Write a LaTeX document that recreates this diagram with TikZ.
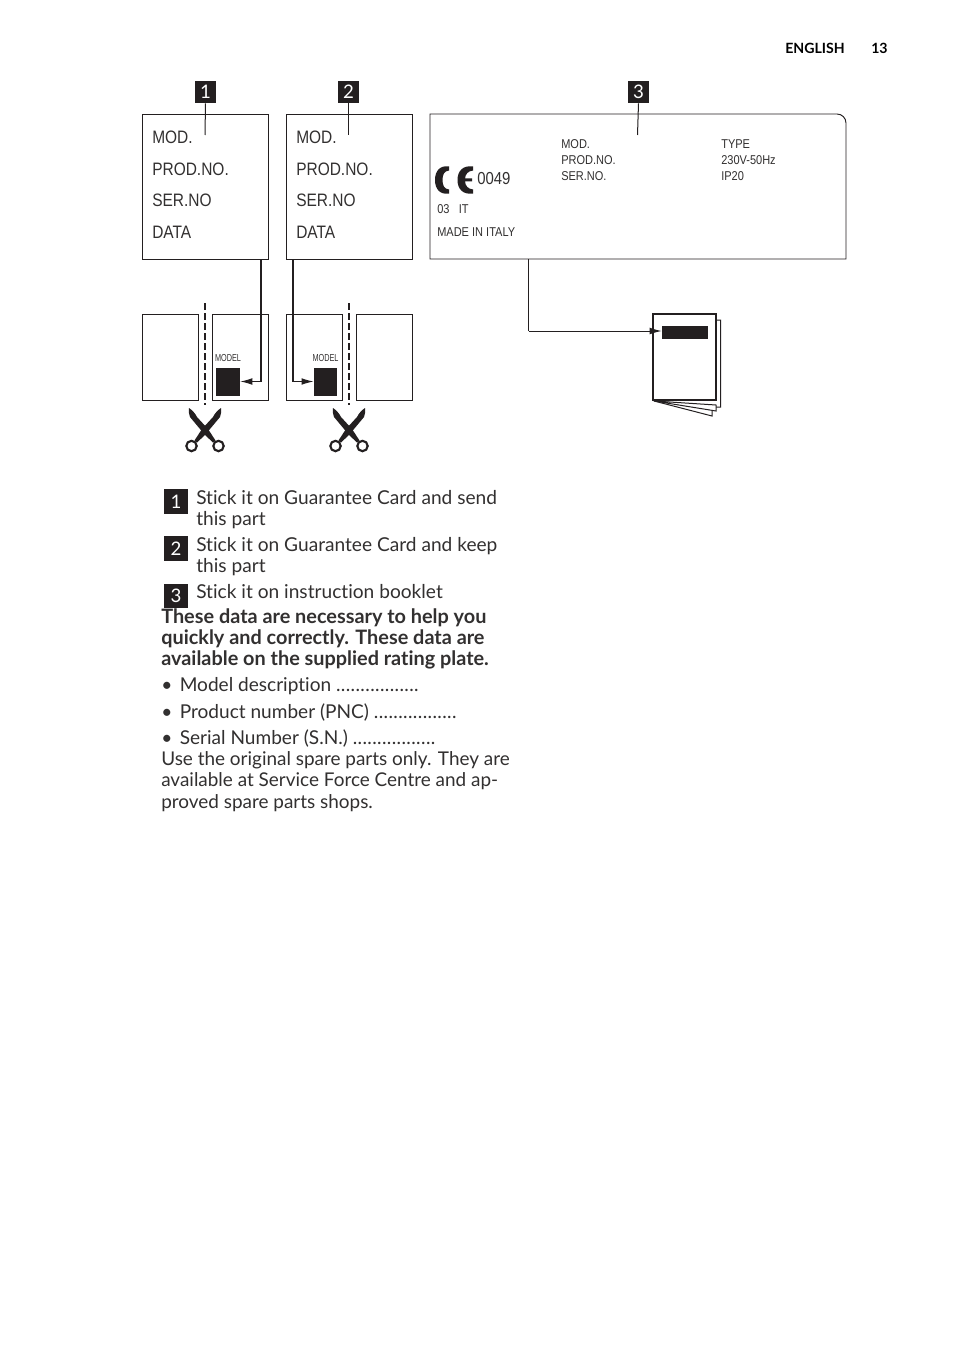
\documentclass[tikz,border=0pt]{standalone}
\usepackage{fontspec}
\setmainfont{Lato}[Ligatures=NoCommon]
\newfontfamily\tagfont[FakeStretch=0.86]{Liberation Sans}
\newfontfamily\modelfont[FakeStretch=0.72]{Liberation Sans}
\definecolor{inkblack}{RGB}{35,31,32}
\definecolor{bodygrey}{RGB}{50,48,48}
\usetikzlibrary{
  arrows.meta,
  calc
}
\newcommand{\fillrun}{{\addfontfeature{LetterSpace=2}.................}}
\tikzset{
  panebox/.style={draw=inkblack, line width=0.72pt},
  tagline/.style={anchor=base west, inner sep=0pt, text=bodygrey,
    font=\tagfont\fontsize{13.5}{16}\selectfont},
  platetext/.style={anchor=base west, inner sep=0pt, text=bodygrey,
    font=\tagfont\fontsize{9.6}{12}\selectfont},
  modeltext/.style={inner sep=0pt, text=bodygrey,
    font=\modelfont\fontsize{7.6}{8}\selectfont},
  numbox/.style={fill=inkblack, text=white, inner sep=0pt,
    minimum width=15.75pt, minimum height=16.5pt, font=\fontsize{14}{16}\selectfont},
  keybox/.style={numbox, minimum width=18pt, minimum height=18.5pt},
  bodytext/.style={anchor=base west, inner sep=0pt, text=bodygrey,
    font=\fontsize{14.2}{16}\selectfont},
  keytext/.style={bodytext, font=\fontsize{14.35}{16}\selectfont},
  listtext/.style={bodytext, font=\fontsize{14.3}{16}\selectfont},
  boldtext/.style={bodytext, font=\fontsize{14.9}{16}\selectfont\bfseries},
  headtext/.style={anchor=base west, inner sep=0pt, text=black,
    font=\fontsize{10.6}{14}\selectfont\bfseries},
  thinline/.style={draw=inkblack, line width=0.75pt},
  arr/.style={thinline, -{Latex[length=9pt, width=5pt]}},
  cutline/.style={draw=inkblack, line width=1.25pt, dash pattern=on 5pt off 2.5pt},
  pics/snips/.style={code={
    \fill[inkblack] (-16,-22) .. controls (-16.5,-18) and (-16,-16) .. (-15,-13)
      -- (0,5) -- (8,12.5) -- (10.5,10.5) -- (3,-1) -- (-8,-13)
      .. controls (-10,-17) and (-13,-20) .. (-16,-22) -- cycle;
    \fill[inkblack] (16,-22) .. controls (16.5,-18) and (16,-16) .. (15,-13)
      -- (0,5) -- (-8,12.5) -- (-10.5,10.5) -- (-3,-1) -- (8,-13)
      .. controls (10,-17) and (13,-20) .. (16,-22) -- cycle;
    \draw[inkblack, line width=1.6pt] (-13.5,16) circle (5.2);
    \draw[inkblack, line width=1.6pt] (13.5,16) circle (5.2);
  }},
}

\begin{document}
\begin{tikzpicture}[x=0.75pt, y=-0.75pt]
  \useasboundingbox (0,0) rectangle (954,1352);
  \fill[white] (0,0) rectangle (954,1352);

  % Header
  \node[headtext] (hdlang) at (785,54) {ENGLISH};
  \node[headtext] (hdpage) at (871,54) {13};

  % Numbers
  \node[numbox] (num1) at (205.5,92) {1};
  \node[numbox] (num2) at (348.5,92) {2};
  \node[numbox] (num3) at (638.5,92) {3};

  % Label 1
  \node[panebox, minimum width=94.5pt, minimum height=108.75pt, inner sep=0pt] (lab1) at (205,186.5) {};
  \node[tagline] (lab1a) at (152,144) {MOD.};
  \node[tagline] (lab1b) at (152,175.5) {PROD.NO.};
  \node[tagline] (lab1c) at (152,206) {SER.NO};
  \node[tagline] (lab1d) at (152,238) {DATA};

  % Label 2
  \node[panebox, minimum width=94.5pt, minimum height=108.75pt, inner sep=0pt] (lab2) at (349,186.5) {};
  \node[tagline] (lab2a) at (296,144) {MOD.};
  \node[tagline] (lab2b) at (296,175.5) {PROD.NO.};
  \node[tagline] (lab2c) at (296,206) {SER.NO};
  \node[tagline] (lab2d) at (296,238) {DATA};

  % Label 3
  \coordinate (lab3nw) at (430,114);
  \coordinate (lab3se) at (846,259);
  \draw[panebox] (lab3nw) -- (837,114) arc[start angle=-90, end angle=0, radius=9]
    -- (lab3se) -- (lab3nw |- lab3se) -- cycle;
  \node[platetext] (lab3a) at (561,148.5) {MOD.};
  \node[platetext] (lab3b) at (561,164.5) {PROD.NO.};
  \node[platetext] (lab3c) at (561,180.5) {SER.NO.};
  \node[platetext] (lab3d) at (721,148.5) {TYPE};
  \node[platetext] (lab3e) at (721,164.5) {230V-50Hz};
  \node[platetext] (lab3f) at (721,180.5) {IP20};
  \node[anchor=base west, inner sep=0pt, text=bodygrey, font=\tagfont\fontsize{13}{15}\selectfont] (lab3g) at (477,185) {0049};
  \node[platetext] (lab3h) at (437,214) {03\hspace{7pt}IT};
  \node[platetext] (lab3i) at (437,236.5) {MADE IN ITALY};

  % CE mark
  \fill[inkblack] (449,166.5) .. controls (440,165) and (435,171) .. (435,180)
    .. controls (435,189) and (440,195) .. (449,193.5)
    -- (449,189.5) .. controls (444,189) and (442.5,185) .. (442.5,180)
    .. controls (442.5,175) and (444,171) .. (449,170.5) -- cycle;
  \fill[inkblack] (473,166.5) .. controls (463,165) and (457.5,171) .. (457.5,180)
    .. controls (457.5,189) and (463,195) .. (473,193.5)
    -- (473,189.5) .. controls (468,189) and (465.5,186) .. (465,181.5) -- (472,181.5) -- (472,178.5) -- (465,178.5)
    .. controls (465.5,174) and (468,171) .. (473,170.5) -- cycle;

  % Panes
  \coordinate (pane1nw) at (142,314);
  \coordinate (pane1se) at (198.5,400);
  \coordinate (pane2nw) at (212,314);
  \coordinate (pane2se) at (268,400);
  \coordinate (pane3nw) at (286,314);
  \coordinate (pane3se) at (342,400);
  \coordinate (pane4nw) at (356,314);
  \coordinate (pane4se) at (412,400);
  \draw[panebox] (pane1nw) rectangle (pane1se);
  \draw[panebox] (pane2nw) rectangle (pane2se);
  \draw[panebox] (pane3nw) rectangle (pane3se);
  \draw[panebox] (pane4nw) rectangle (pane4se);
  \node[modeltext] (model1) at (228,358.5) {MODEL};
  \node[modeltext] (model2) at (325.5,358.5) {MODEL};
  \node[fill=inkblack, minimum width=18pt, minimum height=21pt, inner sep=0pt] (sq1) at (228,382) {};
  \node[fill=inkblack, minimum width=17.5pt, minimum height=21pt, inner sep=0pt] (sq2) at (325.5,382) {};

  % Cuts
  \coordinate (cut1a) at (205,303);
  \coordinate (cut1b) at (205,405);
  \coordinate (cut2a) at (349,303);
  \coordinate (cut2b) at (349,405);
  \draw[cutline] (cut1a) -- (cut1b);
  \draw[cutline] (cut2a) -- (cut2b);
  \pic at (205,430) {snips};
  \pic at (349,430) {snips};

  % Booklet
  \draw[thinline, fill=white] (660,320) -- (720.5,320) -- (720.5,407) -- (716,407) -- (656,401) -- cycle;
  \draw[thinline, fill=white] (654,401) -- (712,416) -- (712,411);
  \draw[thinline, fill=white] (654,401) -- (716,411) -- (716,405) -- cycle;
  \node[draw=inkblack, line width=1.4pt, fill=white, inner sep=0pt, minimum width=47.5pt, minimum height=64.5pt] (book) at (684.5,357) {};
  \node[fill=inkblack, inner sep=0pt, minimum width=34.5pt, minimum height=9.75pt] (bookbar) at (685,332.5) {};

  % Arrows
  \coordinate (tick1) at (205,135);
  \coordinate (tick2) at (348.5,135);
  \coordinate (tick3) at (637.5,135);
  \draw[thinline] (num1.south) -- (tick1);
  \draw[thinline] (num2.south) -- (tick2);
  \draw[thinline] (num3.south) -- (tick3);
  \coordinate (bend1) at (261,381.5);
  \coordinate (bend2) at (293,381.5);
  \coordinate (bend3) at (528.5,331);
  \draw[thinline, line width=1pt] (261,259) -- (bend1);
  \draw[arr] (bend1) -- (sq1.east |- bend1);
  \draw[thinline, line width=1pt] (293,259) -- (bend2);
  \draw[arr] (bend2) -- (sq2.west |- bend2);
  \draw[thinline] (528.5,259) -- (bend3);
  \draw[arr] (bend3) -- (bookbar.west |- bend3);

  % Key
  \node[keybox] (key1) at (176,501.5) {1};
  \node[keybox] (key2) at (176,548.5) {2};
  \node[keybox] (key3) at (176,596) {3};
  \node[keytext] (text1a) at (196,504) {Stick it on Guarantee Card and send};
  \node[keytext] (text1b) at (196,525) {this part};
  \node[keytext] (text2a) at (196,551) {Stick it on Guarantee Card and keep};
  \node[keytext] (text2b) at (196,572) {this part};
  \node[keytext] (text3) at (196,598) {Stick it on instruction booklet};

  % Notes
  \node[boldtext] (text4a) at (161,623) {These data are necessary to help you};
  \node[boldtext] (text4b) at (161,644) {quickly and correctly. These data are};
  \node[boldtext] (text4c) at (161,665) {available on the supplied rating plate.};
  \node[listtext] (text5) at (161,691) {•\hspace{5.6pt}Model description \fillrun};
  \node[listtext] (text6) at (161,718) {•\hspace{5.6pt}Product number (PNC) \fillrun};
  \node[listtext] (text7) at (161,744) {•\hspace{5.6pt}Serial Number (S.N.) \fillrun};
  \node[bodytext] (text8a) at (161,765) {Use the original spare parts only. They are};
  \node[bodytext] (text8b) at (161,786) {available at Service Force Centre and ap-};
  \node[bodytext] (text8c) at (161,808) {proved spare parts shops.};
\end{tikzpicture}
\end{document}
